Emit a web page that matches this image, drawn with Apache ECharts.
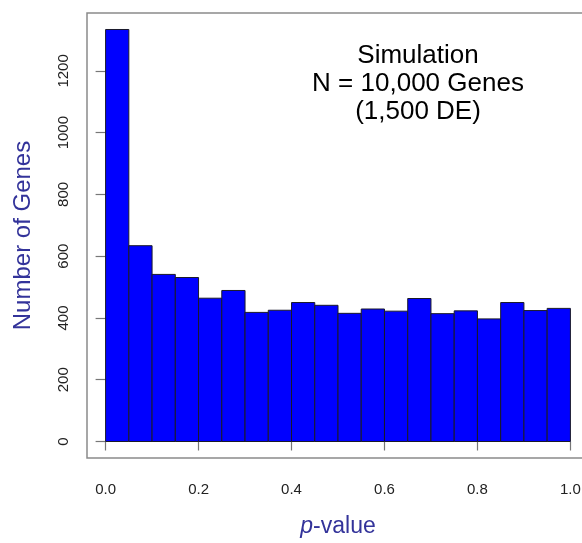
<!DOCTYPE html>
<html>
<head>
<meta charset="utf-8">
<script src="https://cdn.jsdelivr.net/npm/echarts@6/dist/echarts.min.js"></script>
<style>
  html, body { margin: 0; padding: 0; background: #fff; overflow: hidden; }
  /* wider than the window so the plot box can run past the right edge */
  #chart { width: 600px; height: 543px; }
</style>
</head>
<body>
<div id="chart"></div>
<script>
// histogram bins (start of each 0.05 wide bin) and counts
var binStarts = [0, 0.05, 0.1, 0.15, 0.2, 0.25, 0.3, 0.35, 0.4, 0.45,
                 0.5, 0.55, 0.6, 0.65, 0.7, 0.75, 0.8, 0.85, 0.9, 0.95];
var binWidth = 0.05;
var counts = [1334, 634, 541, 531, 464, 489, 418, 425, 450, 441,
              415, 429, 422, 463, 414, 423, 397, 450, 424, 431];
var xTicks = [0, 0.2, 0.4, 0.6, 0.8, 1.0];
var yTicks = [0, 200, 400, 600, 800, 1000, 1200];

var font = "'Liberation Sans', Arial, sans-serif";
var seriesData = binStarts.map(function (s, i) {
  return [s, s + binWidth, counts[i]];
});

var chart = echarts.init(document.getElementById("chart"));
chart.setOption({
  animation: false,
  title: {
    text: "Simulation\nN = 10,000 Genes\n(1,500 DE)",
    left: 413,
    top: 37,
    textAlign: "center",
    textStyle: {
      fontFamily: font,
      fontSize: 26,
      fontWeight: "normal",
      lineHeight: 28,
      color: "#000",
    },
  },
  grid: {
    left: 87,
    top: 13,
    right: 11,
    bottom: 82,
    show: true,
    borderColor: "#8a8a8a",
    borderWidth: 1.5,
  },
  xAxis: {
    type: "value",
    min: -0.04,
    max: 1.04,
    name: "{i|p}-value",
    nameLocation: "middle",
    nameGap: 57,
    nameTextStyle: {
      fontFamily: font,
      fontSize: 23,
      color: "#33339a",
      rich: { i: { fontStyle: "italic", fontSize: 23, fontFamily: font, color: "#33339a" } },
    },
    axisLine: { show: false },
    splitLine: { show: false },
    axisTick: {
      show: true,
      length: 9,
      customValues: xTicks,
      lineStyle: { color: "#777", width: 1.2 },
    },
    axisLabel: {
      customValues: xTicks,
      margin: 24,
      fontFamily: font,
      fontSize: 15,
      color: "#222",
      formatter: function (v) { return v.toFixed(1); },
    },
  },
  yAxis: {
    type: "value",
    min: -53.4,
    max: 1387.4,
    name: "Number of Genes",
    nameLocation: "middle",
    nameGap: 52,
    nameTextStyle: { fontFamily: font, fontSize: 24, color: "#33339a" },
    axisLine: { show: false },
    splitLine: { show: false },
    axisTick: {
      show: true,
      length: 10,
      customValues: yTicks,
      lineStyle: { color: "#777", width: 1.2 },
    },
    axisLabel: {
      customValues: yTicks,
      rotate: 90,
      margin: 16,
      fontFamily: font,
      fontSize: 15,
      color: "#222",
      formatter: function (v) { return String(v); },
    },
  },
  series: [
    {
      type: "custom",
      data: seriesData,
      encode: { x: [0, 1], y: 2 },
      renderItem: function (params, api) {
        var p0 = api.coord([api.value(0), api.value(2)]);
        var p1 = api.coord([api.value(1), 0]);
        return {
          type: "rect",
          shape: { x: p0[0], y: p0[1], width: p1[0] - p0[0], height: p1[1] - p0[1] },
          style: { fill: "#0000ff", stroke: "#1a1a2a", lineWidth: 1 },
        };
      },
    },
  ],
});
</script>
</body>
</html>
